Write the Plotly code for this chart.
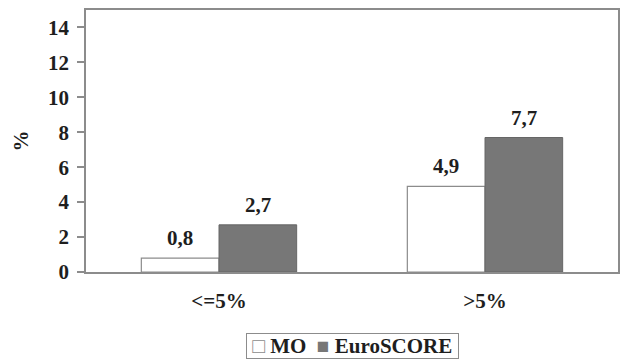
import plotly.graph_objects as go

categories = ["<=5%", ">5%"]
mo_values = [0.8, 4.9]
euroscore_values = [2.7, 7.7]
y_ticks = [0, 2, 4, 6, 8, 10, 12, 14]

W, H = 621, 362
MARGIN = dict(l=86, r=1, t=10, b=90)
BARGAP = 0.416

FONT = dict(family="Times New Roman, Liberation Serif, serif", size=21,
            color="#1e1e1e", weight="bold")
GRID = "#8c8c8c"
MO_FILL, EURO_FILL = "white", "#777777"


def fmt(v):
    return f"{v:.1f}".replace(".", ",")


fig = go.Figure()
fig.add_trace(go.Bar(
    name="MO", x=categories, y=mo_values,
    marker=dict(color=MO_FILL, line=dict(color=GRID, width=1.2)),
))
fig.add_trace(go.Bar(
    name="EuroSCORE", x=categories, y=euroscore_values,
    marker=dict(color=EURO_FILL, line=dict(color="#666666", width=1)),
))

# value labels above each bar (two bars per group, each half of the group width)
plot_w = W - MARGIN["l"] - MARGIN["r"]
bar_px = plot_w / len(categories) * (1 - BARGAP) / 2
for shift, values in ((-bar_px / 2, mo_values), (bar_px / 2, euroscore_values)):
    for cat, v in zip(categories, values):
        fig.add_annotation(
            x=cat, y=v, xref="x", yref="y", xshift=shift, yshift=6,
            text=f"<b>{fmt(v)}</b>", showarrow=False, yanchor="bottom",
            font=FONT,
        )

# compact boxed legend below the axis
fig.add_annotation(
    x=0.5, y=-0.282, xref="paper", yref="paper", xanchor="center", yanchor="middle",
    text=(f"&nbsp;<span style='color:{GRID}'>□</span>&nbsp;<b>MO</b>&nbsp;&nbsp;"
          f"<span style='color:{EURO_FILL}'>■</span>&nbsp;<b>EuroSCORE</b>&nbsp;"),
    showarrow=False, font=FONT, bordercolor=GRID, borderwidth=1, borderpad=0,
    bgcolor="white",
)

fig.update_layout(
    width=W, height=H, margin=MARGIN,
    paper_bgcolor="white", plot_bgcolor="white",
    barmode="group", bargap=BARGAP, bargroupgap=0,
    font=FONT, showlegend=False,
)
fig.update_xaxes(
    showline=True, linecolor=GRID, linewidth=1.5, mirror=True,
    ticks="", ticklabelstandoff=9, tickfont=FONT, showgrid=False,
    tickvals=categories, ticktext=[f"<b>{c}</b>" for c in categories],
)
fig.update_yaxes(
    range=[0, 15], tickvals=y_ticks, ticktext=[f"<b>{t}</b>" for t in y_ticks],
    showline=True, linecolor=GRID, linewidth=1.5, mirror=True,
    ticks="outside", ticklen=7, tickcolor=GRID, tickwidth=1.5,
    ticklabelstandoff=4,
    showgrid=False, zeroline=False, tickfont=FONT,
    title=dict(text="<b>%</b>", font=FONT, standoff=14),
)

fig.write_html("out.html")
